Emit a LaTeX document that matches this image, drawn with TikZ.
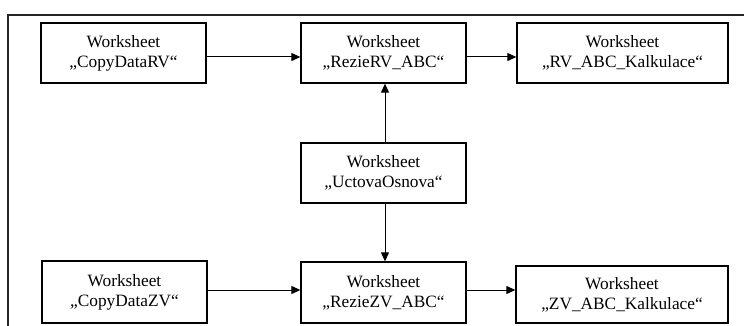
\documentclass[tikz,border=0pt]{standalone}
\usepackage{fontspec}
\setmainfont{Liberation Serif}
\usetikzlibrary{arrows.meta}
\begin{document}
\begin{tikzpicture}[x=1pt,y=-1pt,
  sheet/.style={draw, line width=1.3pt, inner sep=0pt, align=center,
    font=\fontsize{17.3}{20}\selectfont, text=black},
  conn/.style={line width=1pt, -{Triangle[length=9pt,width=8pt]}}]
\useasboundingbox (0,0) rectangle (744,326);
\draw[line width=1.1pt, black!85] (8,326) -- (8,15) -- (744,15);
\node[sheet, minimum width=165pt, minimum height=60pt] (crv) at (123.5,53) {Worksheet\\„CopyDataRV“};
\node[sheet, minimum width=165pt, minimum height=60pt] (rrv) at (383.5,53) {Worksheet\\„RezieRV\_ABC“};
\node[sheet, minimum width=211pt, minimum height=60pt] (krv) at (622.5,53) {Worksheet\\„RV\_ABC\_Kalkulace“};
\node[sheet, minimum width=165pt, minimum height=60pt] (uo) at (383.5,173) {Worksheet\\„UctovaOsnova“};
\node[sheet, minimum width=165pt, minimum height=62pt] (czv) at (124.5,292) {Worksheet\\„CopyDataZV“};
\node[sheet, minimum width=165pt, minimum height=61pt] (rzv) at (383.5,292.5) {Worksheet\\„RezieZV\_ABC“};
\node[sheet, minimum width=212pt, minimum height=57pt] (kzv) at (622,294.5) {Worksheet\\„ZV\_ABC\_Kalkulace“};
\draw[conn] (crv.east |- 0,57) -- (rrv.west |- 0,57);
\draw[conn] (rrv.east |- 0,57) -- (krv.west |- 0,57);
\draw[conn] (uo.north -| 385,0) -- (rrv.south -| 385,0);
\draw[conn] (uo.south -| 385,0) -- (rzv.north -| 385,0);
\draw[conn] (czv.east |- 0,290) -- (rzv.west |- 0,290);
\draw[conn] (rzv.east |- 0,290) -- (kzv.west |- 0,290);
\end{tikzpicture}
\end{document}
